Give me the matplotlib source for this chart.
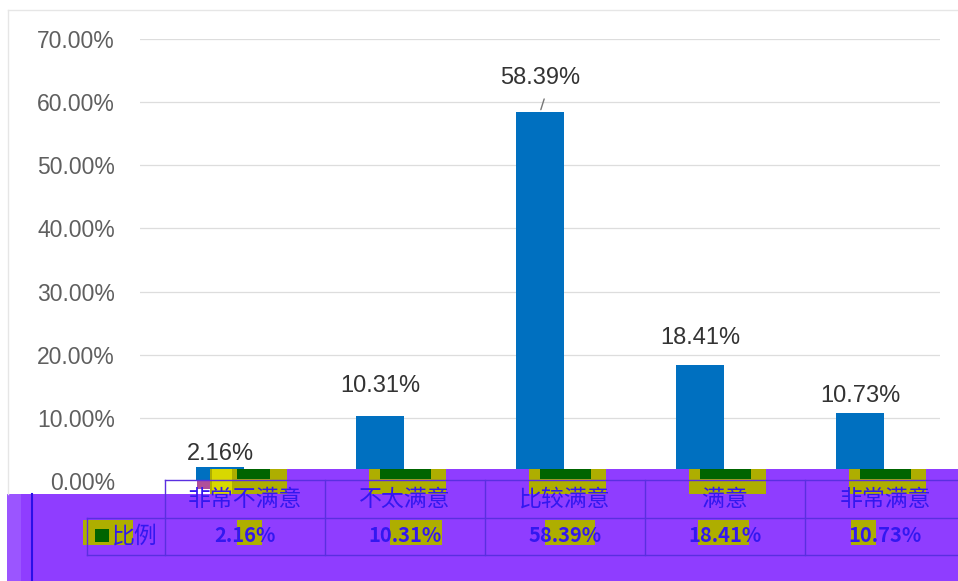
import matplotlib.pyplot as plt
from matplotlib.patches import Rectangle
from matplotlib.lines import Line2D
from matplotlib.transforms import blended_transform_factory

plt.rcParams['font.family'] = ['Liberation Sans', 'Noto Sans CJK SC', 'DejaVu Sans']

categories = ['非常不满意', '不太满意', '比较满意', '满意', '非常满意']
ratios = [2.16, 10.31, 58.39, 18.41, 10.73]
series_name = '比例'
yticks = [0, 10, 20, 30, 40, 50, 60, 70]

# label gap above each bar (pixels)
label_gap = [2, 19, 23, 16, 6]

W, H = 958, 581
bar_color = '#0070C0'
purple = '#8F3DFF'
olive = '#AEAE00'
dgreen = '#006400'
tblue = '#3318F0'
lcol = '#5A2FE0'

fig = plt.figure(figsize=(W / 100, H / 100), dpi=100)
ax = fig.add_axes([140 / W, 100 / H, 800 / W, 442 / H])

x = list(range(len(categories)))
bars = ax.bar(x, ratios, width=0.295, color=bar_color, zorder=3)
ax.set_xlim(-0.5, 4.5)
ax.set_ylim(0, 70)
ax.set_yticks(yticks)
ax.set_yticklabels([f'{v:.2f}%' for v in yticks], fontsize=16.5, color='#5F5F5F')
ax.set_xticks([])
ax.tick_params(axis='y', length=0, pad=18)
ax.grid(axis='y', color='#DDDDDD', lw=0.9, zorder=0)
for s in ax.spines.values():
    s.set_visible(False)

for i, v in enumerate(ratios):
    ax.annotate(f'{v:.2f}%', (i, v), xytext=(0, label_gap[i]), textcoords='offset pixels',
                ha='center', va='bottom', fontsize=17, color='#333333', zorder=4)
# leader line on the tallest bar
imax = ratios.index(max(ratios))
ax.annotate('', (imax, ratios[imax]), xytext=(5, 16), textcoords='offset pixels',
            arrowprops=dict(arrowstyle='-', color='#777777', lw=1))


def box(x0, y0, x1, y1, color, z=5):
    fig.add_artist(Rectangle((x0 / W, 1 - y1 / H), (x1 - x0) / W, (y1 - y0) / H,
                             transform=fig.transFigure, facecolor=color, lw=0, zorder=z))


def line(xs, ys, color=lcol, lw=1.0, z=6):
    fig.add_artist(Line2D([v / W for v in xs], [1 - v / H for v in ys],
                          transform=fig.transFigure, color=color, lw=lw, zorder=z))


# chart area border
line([8, 958], [10, 10], color='#E6E6E6')
line([8, 8], [10, 494], color='#E6E6E6')

# purple table block
box(287, 469, 958, 494, purple)
box(7, 494, 958, 581, purple)
box(7, 494, 21, 581, '#9B55FF')
line([32, 32], [494, 581], color='#2A10E8', lw=1.5)

# glitch pieces near the first category
box(140, 480, 187, 494, 'white', z=4)
box(197, 481, 210, 489, '#B0509A')
box(210, 469, 287, 494, olive)
box(212, 469, 232, 494, '#D8D800')
box(237, 469, 270, 479, dgreen)

# olive / green blocks under each bar
bt = blended_transform_factory(ax.transData, fig.transFigure)
for i in x[1:]:
    fig.add_artist(Rectangle((i - 0.07, 1 - 494 / H), 0.48, 25 / H, transform=bt,
                             facecolor=olive, lw=0, zorder=5))
    fig.add_artist(Rectangle((i, 1 - 479 / H), 0.32, 10 / H, transform=bt,
                             facecolor=dgreen, lw=0, zorder=5))

# table grid
line([165, 958], [480, 480])
line([87, 958], [518, 518])
line([87, 958], [555, 555])
line([87, 87], [518, 555])
for k in range(5):
    line([165 + 160 * k, 165 + 160 * k], [480, 555])

# value highlights (glitch)
hl = [(237, 262), (390, 442), (545, 595), (698, 749), (851, 876)]
for a, b in hl:
    box(a, 520, b, 545, olive)
box(83, 520, 133, 545, olive)
box(95, 529, 109, 542, dgreen)

cjk = ['Noto Sans CJK SC', 'DejaVu Sans']
for k, (c, v) in enumerate(zip(categories, ratios)):
    cx = (245 + 160 * k) / W
    fig.text(cx, 1 - 499 / H, c, ha='center', va='center', fontsize=16.5,
             color=tblue, family=cjk, zorder=7)
    fig.text(cx, 1 - 536 / H, f'{v:.2f}%', ha='center', va='center', fontsize=14.5,
             color=tblue, weight='bold', family=cjk, zorder=7)
fig.text(112 / W, 1 - 536 / H, series_name, ha='left', va='center', fontsize=16.5,
         color=tblue, family=cjk, zorder=7)

fig.savefig('out.png', dpi=100, facecolor='white')
